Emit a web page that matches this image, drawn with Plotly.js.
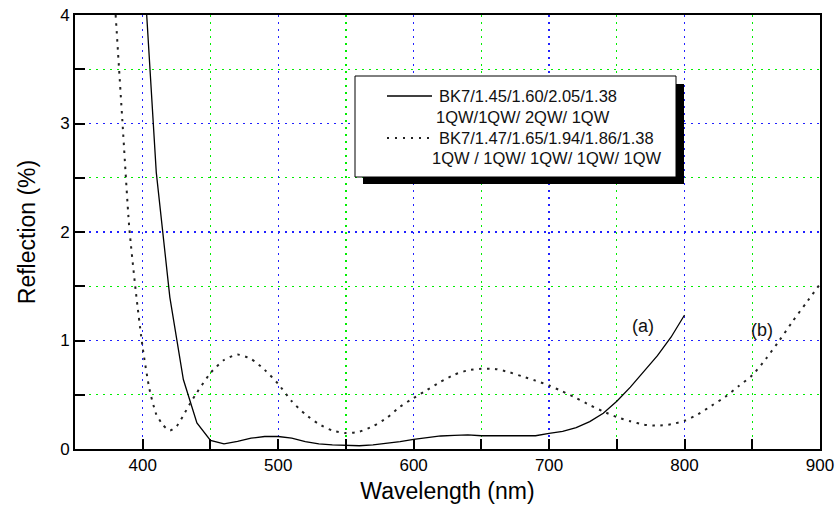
<!DOCTYPE html>
<html>
<head>
<meta charset="utf-8">
<script src="https://cdn.plot.ly/plotly-3.0.1.min.js"></script>
<style>html,body{margin:0;padding:0;background:#fff;}#chart{width:838px;height:518px;}</style>
</head>
<body>
<div id="chart"></div>
<script>
// Curve (a): BK7/1.45/1.60/2.05/1.38
const wlA = [400,410,420,430,440,450,460,470,480,490,500,510,520,530,540,550,560,570,580,590,600,610,620,630,640,650,660,670,680,690,700,710,720,730,740,750,760,770,780,790,800];
const rA  = [4.6,2.55,1.40,0.64,0.24,0.08,0.048,0.07,0.10,0.115,0.115,0.10,0.068,0.048,0.038,0.033,0.030,0.038,0.052,0.068,0.088,0.105,0.12,0.125,0.13,0.122,0.122,0.122,0.122,0.122,0.145,0.162,0.198,0.252,0.33,0.44,0.57,0.71,0.86,1.03,1.235];
// Curve (b): BK7/1.47/1.65/1.94/1.86/1.38
const wlB = [380,385,390,395,400,405,410,415,420,425,430,435,440,450,460,470,480,490,500,510,520,530,540,550,560,570,580,590,600,610,620,630,640,650,660,670,680,690,700,710,720,730,740,750,760,770,780,790,800,810,820,830,840,850,860,870,880,890,900];
const rB  = [4.00,3.02,2.05,1.44,0.93,0.55,0.32,0.22,0.17,0.21,0.31,0.42,0.52,0.70,0.82,0.87,0.83,0.73,0.60,0.44,0.32,0.23,0.17,0.147,0.16,0.21,0.285,0.39,0.47,0.545,0.62,0.685,0.725,0.74,0.738,0.71,0.67,0.63,0.585,0.53,0.47,0.405,0.346,0.294,0.255,0.225,0.215,0.228,0.26,0.32,0.40,0.48,0.58,0.68,0.83,1.00,1.18,1.35,1.52];
const legendLines = [
  ["BK7/1.45/1.60/2.05/1.38", "1QW/1QW/ 2QW/ 1QW"],
  ["BK7/1.47/1.65/1.94/1.86/1.38", "1QW / 1QW/ 1QW/ 1QW/ 1QW"]
];
const curveLabels = ["(a)", "(b)"];
const xTitle = "Wavelength (nm)";
const yTitle = "Reflection (%)";

const FONT = "Liberation Sans, Arial, sans-serif";
const L = 75, R = 18, T = 15, B = 69, W = 838, H = 518;
const pw = W - L - R, ph = H - T - B;
const px = x => (x - L) / pw;
const py = y => (H - B - y) / ph;

const BLUE = "#2020ff", GREEN = "#00ee00";
const DOTS = "2.5px,5.5px";

const traces = [
  {x: wlA, y: rA, mode: "lines", line: {color: "#000", width: 1.3}, showlegend: false, hoverinfo: "skip"},
  {x: wlB, y: rB, mode: "lines", line: {color: "#222", width: 2, dash: DOTS, shape: "spline", smoothing: 0.6}, showlegend: false, hoverinfo: "skip"}
];

const shapes = [
  {type: "rect", xref: "paper", yref: "paper", x0: px(363), x1: px(684), y0: py(84), y1: py(184), fillcolor: "#000", line: {width: 0}, layer: "above"},
  {type: "rect", xref: "paper", yref: "paper", x0: px(355), x1: px(676), y0: py(76), y1: py(177), fillcolor: "#fff", line: {color: "#000", width: 1}, layer: "above"},
  {type: "line", xref: "paper", yref: "paper", x0: px(387), x1: px(432), y0: py(96), y1: py(96), line: {color: "#000", width: 1.3}, layer: "above"},
  {type: "line", xref: "paper", yref: "paper", x0: px(387), x1: px(432), y0: py(138), y1: py(138), line: {color: "#222", width: 2, dash: "2px,6px"}, layer: "above"}
];

const legFont = {family: FONT, size: 16.5, color: "#111"};
const labFont = {family: FONT, size: 18, color: "#111"};
const annotations = [
  {xref: "paper", yref: "paper", x: px(437), y: py(96), xanchor: "left", yanchor: "middle", text: legendLines[0][0], showarrow: false, font: legFont},
  {xref: "paper", yref: "paper", x: px(434), y: py(117), xanchor: "left", yanchor: "middle", text: legendLines[0][1], showarrow: false, font: legFont},
  {xref: "paper", yref: "paper", x: px(437), y: py(138), xanchor: "left", yanchor: "middle", text: legendLines[1][0], showarrow: false, font: legFont},
  {xref: "paper", yref: "paper", x: px(430), y: py(158), xanchor: "left", yanchor: "middle", text: legendLines[1][1], showarrow: false, font: legFont},
  {xref: "x", yref: "y", x: 769.5, y: 1.13, text: curveLabels[0], showarrow: false, font: labFont},
  {xref: "x", yref: "y", x: 857, y: 1.10, text: curveLabels[1], showarrow: false, font: labFont}
];

const layout = {
  width: W, height: H,
  margin: {l: L, r: R, t: T, b: B, pad: 0},
  paper_bgcolor: "#fff", plot_bgcolor: "#fff",
  showlegend: false,
  font: {family: FONT, color: "#000"},
  xaxis: {
    range: [350, 900], tick0: 400, dtick: 100,
    ticks: "inside", ticklen: 10, tickwidth: 2, tickcolor: "#000",
    tickfont: {family: FONT, size: 17, color: "#000"},
    showline: true, linecolor: "#000", linewidth: 2, mirror: true,
    showgrid: true, gridcolor: BLUE, gridwidth: 1.3, griddash: "2px,5px",
    zeroline: false,
    minor: {dtick: 50, ticks: "inside", ticklen: 10, tickwidth: 2, tickcolor: "#000", showgrid: true, gridcolor: GREEN, gridwidth: 1.3, griddash: "2px,5px"},
    title: {text: xTitle, font: {family: FONT, size: 23, color: "#000"}, standoff: 8},
    automargin: false
  },
  yaxis: {
    range: [0, 4], tick0: 0, dtick: 1,
    ticks: "inside", ticklen: 10, tickwidth: 2, tickcolor: "#000",
    tickfont: {family: FONT, size: 17, color: "#000"},
    showline: true, linecolor: "#000", linewidth: 2, mirror: true,
    showgrid: true, gridcolor: BLUE, gridwidth: 1.3, griddash: "2px,5px",
    zeroline: false,
    minor: {dtick: 0.5, ticks: "inside", ticklen: 10, tickwidth: 2, tickcolor: "#000", showgrid: true, gridcolor: GREEN, gridwidth: 1.3, griddash: "2px,5px"},
    title: {text: yTitle, font: {family: FONT, size: 23, color: "#000"}, standoff: 18},
    automargin: false
  },
  shapes: shapes,
  annotations: annotations
};

Plotly.newPlot("chart", traces, layout, {staticPlot: true, displayModeBar: false});
</script>
</body>
</html>
